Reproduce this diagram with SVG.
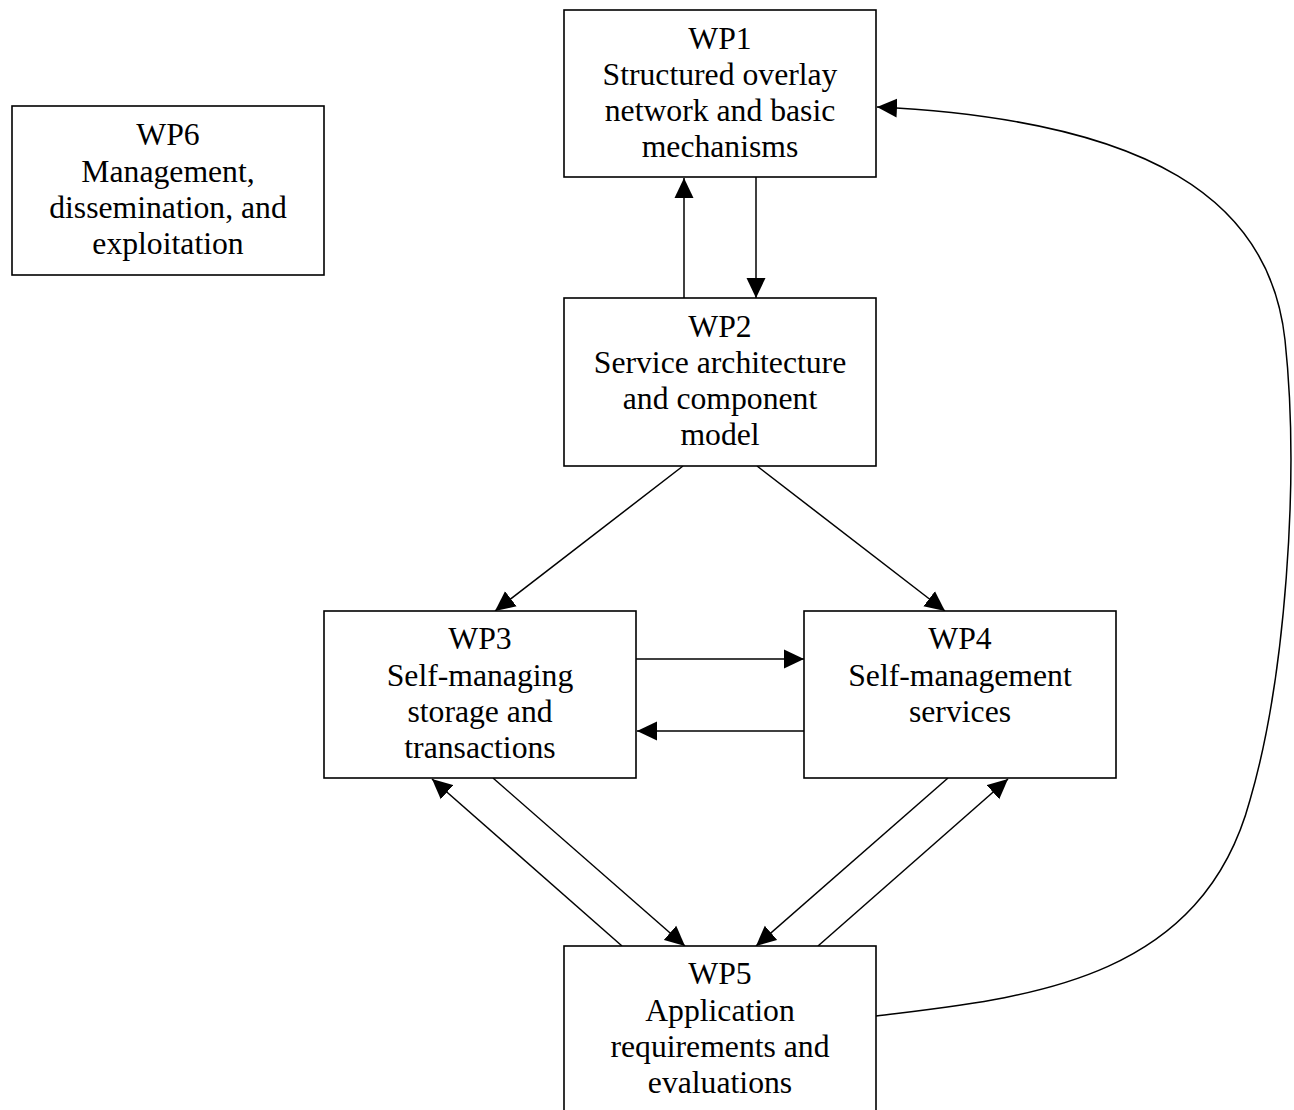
<svg xmlns="http://www.w3.org/2000/svg" width="1294" height="1110" viewBox="0 0 1294 1110">
<style>
.box{fill:#fff;stroke:#000;stroke-width:1.6}
.lbl{font-family:"Liberation Serif","Times New Roman",serif;font-size:31.7px;fill:#000;text-anchor:middle}
.edge{fill:none;stroke:#000;stroke-width:1.5}
</style>
<defs>
<marker id="ah" markerUnits="userSpaceOnUse" markerWidth="20" markerHeight="20" viewBox="0 0 20 20" refX="20" refY="10" orient="auto">
<path d="M0,0.5 L20,10 L0,19.5 z" fill="#000"/>
</marker>
</defs>
<rect width="1294" height="1110" fill="#fff"/>
<g id="connectors">
<line class="edge" x1="684" y1="298" x2="684" y2="178" marker-end="url(#ah)"/>
<line class="edge" x1="756" y1="177" x2="756" y2="298" marker-end="url(#ah)"/>
<line class="edge" x1="683" y1="466" x2="495" y2="611" marker-end="url(#ah)"/>
<line class="edge" x1="757" y1="466" x2="945" y2="611" marker-end="url(#ah)"/>
<line class="edge" x1="636" y1="659" x2="804" y2="659" marker-end="url(#ah)"/>
<line class="edge" x1="804" y1="731" x2="637" y2="731" marker-end="url(#ah)"/>
<line class="edge" x1="622" y1="946" x2="432" y2="779" marker-end="url(#ah)"/>
<line class="edge" x1="493" y1="778" x2="685" y2="946" marker-end="url(#ah)"/>
<line class="edge" x1="948" y1="778" x2="756" y2="946" marker-end="url(#ah)"/>
<line class="edge" x1="818" y1="946" x2="1008" y2="779" marker-end="url(#ah)"/>
<path class="edge" d="M876,1016 C1020,998 1200,985 1250,800 C1285,680 1300,480 1285,340 C1270,200 1150,120 877,107" marker-end="url(#ah)"/>
</g>
<g id="wp1">
<rect class="box" x="564" y="10" width="312" height="167"/>
<text class="lbl" x="720" y="49"><tspan x="720">WP1</tspan><tspan x="720" dy="36">Structured overlay</tspan><tspan x="720" dy="36">network and basic</tspan><tspan x="720" dy="36">mechanisms</tspan></text>
</g>
<g id="wp2">
<rect class="box" x="564" y="298" width="312" height="168"/>
<text class="lbl" x="720" y="337"><tspan x="720">WP2</tspan><tspan x="720" dy="36">Service architecture</tspan><tspan x="720" dy="36">and component</tspan><tspan x="720" dy="36">model</tspan></text>
</g>
<g id="wp3">
<rect class="box" x="324" y="611" width="312" height="167"/>
<text class="lbl" x="480" y="649"><tspan x="480">WP3</tspan><tspan x="480" dy="37">Self-managing</tspan><tspan x="480" dy="36">storage and</tspan><tspan x="480" dy="36">transactions</tspan></text>
</g>
<g id="wp4">
<rect class="box" x="804" y="611" width="312" height="167"/>
<text class="lbl" x="960" y="649"><tspan x="960">WP4</tspan><tspan x="960" dy="37">Self-management</tspan><tspan x="960" dy="36">services</tspan></text>
</g>
<g id="wp5">
<rect class="box" x="564" y="946" width="312" height="190"/>
<text class="lbl" x="720" y="984"><tspan x="720">WP5</tspan><tspan x="720" dy="37">Application</tspan><tspan x="720" dy="36">requirements and</tspan><tspan x="720" dy="36">evaluations</tspan></text>
</g>
<g id="wp6">
<rect class="box" x="12" y="106" width="312" height="169"/>
<text class="lbl" x="168" y="145"><tspan x="168">WP6</tspan><tspan x="168" dy="37">Management,</tspan><tspan x="168" dy="36">dissemination, and</tspan><tspan x="168" dy="36">exploitation</tspan></text>
</g>
</svg>
